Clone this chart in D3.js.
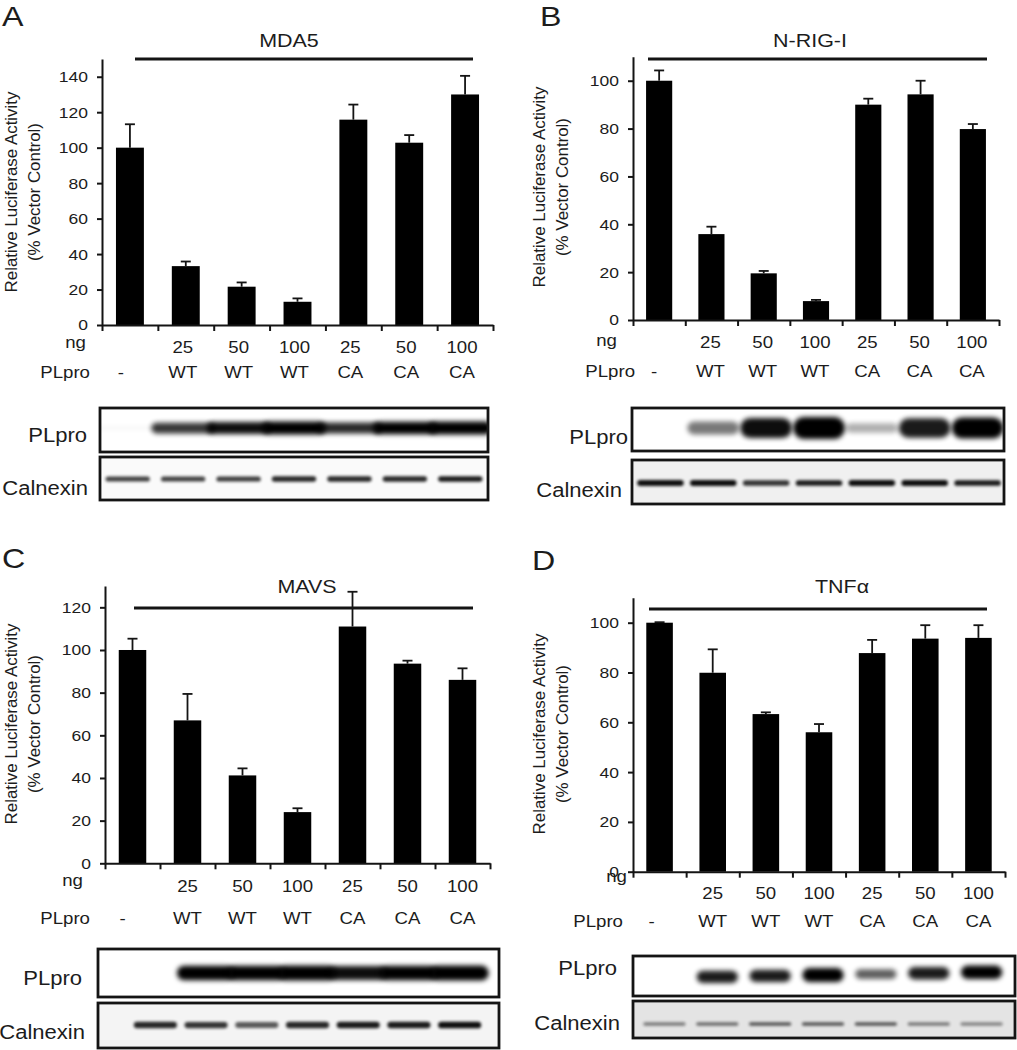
<!DOCTYPE html>
<html><head><meta charset="utf-8">
<script src="https://cdn.jsdelivr.net/npm/d3@7"></script>
<style>
body{margin:0;background:#fff}
svg{display:block}
text{font-family:"Liberation Sans",Arial,Helvetica,sans-serif;fill:#1c1c1c}
</style>
</head><body>
<svg id="fig" width="1017" height="1050"></svg>
<script>
// ---------- data ----------
const lanes = ["vector", "WT 25", "WT 50", "WT 100", "CA 25", "CA 50", "CA 100"];
const ngLabels = ["", "25", "50", "100", "25", "50", "100"];
const plproLabels = ["-", "WT", "WT", "WT", "CA", "CA", "CA"];

const mda5Values = [100, 33.2, 21.6, 13.1, 115.8, 102.8, 130];
const mda5Errors = [13.2, 2.6, 2.4, 1.9, 8.5, 4.3, 10.5];
const mda5Ticks = [0, 20, 40, 60, 80, 100, 120, 140];

const nrigValues = [100, 35.9, 19.5, 7.9, 90, 94.3, 79.8];
const nrigErrors = [4.3, 3.1, 1.0, 0.5, 2.5, 5.7, 2.1];
const nrigTicks = [0, 20, 40, 60, 80, 100];

const mavsValues = [100, 67, 41.2, 24, 111, 93.6, 86];
const mavsErrors = [5.3, 12.4, 3.3, 1.8, 16.3, 1.4, 5.4];
const mavsTicks = [0, 20, 40, 60, 80, 100, 120];

const tnfValues = [100, 79.9, 63.3, 56, 87.8, 93.6, 93.9];
const tnfErrors = [0.2, 9.4, 0.7, 3.3, 5.3, 5.4, 5.1];
const tnfTicks = [0, 20, 40, 60, 80, 100];

// western blot band intensities (0..1) per lane
const mda5PLpro    = [0.03, 0.75, 0.9, 1.0, 0.8, 0.95, 1.0];
const mda5Calnexin = [0.7, 0.7, 0.72, 0.8, 0.8, 0.8, 0.85];
const nrigPLpro    = [0.0, 0.5, 0.9, 1.0, 0.3, 0.85, 0.95];
const nrigCalnexin = [0.9, 0.9, 0.75, 0.85, 0.9, 0.9, 0.85];
const mavsPLpro    = [0.0, 0.95, 0.95, 1.0, 0.9, 0.95, 1.0];
const mavsCalnexin = [0.8, 0.75, 0.6, 0.8, 0.85, 0.85, 0.9];
const tnfPLpro     = [0.0, 0.85, 0.85, 1.0, 0.6, 0.85, 0.95];
const tnfCalnexin  = [0.45, 0.5, 0.6, 0.6, 0.6, 0.45, 0.4];

// ---------- drawing ----------
const svg = d3.select("#fig");
const defs = svg.append("defs");
function addBlur(id, sd) {
  defs.append("filter").attr("id", id)
    .attr("x", "-30%").attr("y", "-150%").attr("width", "160%").attr("height", "400%")
    .append("feGaussianBlur").attr("stdDeviation", sd);
}
addBlur("blurPL", 2.6);
addBlur("blurCal", 1.6);

const ink = "#141414";
const FS_TICK = 15.5;
const FS_ROW = 16.5;
const SX = 1.13; // horizontal text stretch seen in the reference

function drawChart(p) {
  const g = svg.append("g");
  const y = d3.scaleLinear().domain([0, p.yMax]).range([p.y0, p.yTop]);
  const x = d3.scaleBand().domain(lanes).range([p.x0, p.x1]).paddingInner(0.5).paddingOuter(0.25);
  const xb = d3.scaleLinear().domain([0, lanes.length]).range([p.x0, p.x1]);

  // bars
  g.append("g").selectAll("rect").data(p.values).join("rect")
    .attr("x", (d, i) => x(lanes[i]))
    .attr("y", d => y(d))
    .attr("width", x.bandwidth())
    .attr("height", d => y(0) - y(d))
    .attr("fill", "#000");

  // error bars (upper only)
  const eg = g.append("g").attr("stroke", ink).attr("stroke-width", 1.8);
  p.values.forEach((v, i) => {
    const cx = x(lanes[i]) + x.bandwidth() / 2;
    const top = y(v + p.errors[i]);
    eg.append("line").attr("x1", cx).attr("x2", cx).attr("y1", y(v)).attr("y2", top);
    eg.append("line").attr("x1", cx - 5).attr("x2", cx + 5).attr("y1", top).attr("y2", top);
  });

  // y axis
  const ya = g.append("g").attr("transform", `translate(${p.x0},0)`)
    .call(d3.axisLeft(y).tickValues(p.ticks).tickSize(5).tickSizeOuter(0).tickPadding(9));
  // x axis (ticks at lane boundaries)
  const xa = g.append("g").attr("transform", `translate(0,${p.y0})`)
    .call(d3.axisBottom(xb).tickValues(d3.range(0, lanes.length + 1)).tickSize(6).tickSizeOuter(0).tickFormat(""));
  [ya, xa].forEach(a => {
    a.select(".domain").attr("stroke", ink).attr("stroke-width", 2);
    a.selectAll(".tick line").attr("stroke", ink).attr("stroke-width", 2);
    a.selectAll(".tick text").attr("font-size", FS_TICK).attr("fill", "#1c1c1c")
      .style("font-family", '"Liberation Sans",Arial,sans-serif');
  });

  // ng row
  g.append("text").attr("x", p.ngLabelX).attr("y", p.ngLabelY).attr("text-anchor", "end")
    .attr("font-size", FS_ROW).text("ng");
  g.append("g").selectAll("text").data(ngLabels).join("text")
    .attr("x", (d, i) => x(lanes[i]) + x.bandwidth() / 2 + p.rowShift)
    .attr("y", p.ngY).attr("text-anchor", "middle").attr("font-size", FS_ROW).text(d => d);
  // PLpro row
  g.append("text").attr("x", p.plLabelX).attr("y", p.plY).attr("text-anchor", "end")
    .attr("font-size", FS_ROW).text("PLpro");
  g.append("g").selectAll("text").data(plproLabels).join("text")
    .attr("x", (d, i) => x(lanes[i]) + x.bandwidth() / 2 + p.rowShift + (i === 0 ? p.dashShift : 0))
    .attr("y", p.plY).attr("text-anchor", "middle").attr("font-size", FS_ROW).text(d => d);

  // title + bar line
  g.append("line").attr("x1", p.lineX0).attr("x2", p.lineX1).attr("y1", p.lineY).attr("y2", p.lineY)
    .attr("stroke", ink).attr("stroke-width", 2.8);
  g.append("text").attr("x", p.titleX).attr("y", p.titleY).attr("text-anchor", "middle")
    .attr("font-size", 19).text(p.title);

  // y title
  const yt = g.append("text").attr("transform", `translate(${p.ytX},${p.ytY}) rotate(-90)`)
    .attr("text-anchor", "middle").attr("font-size", 16.9);
  yt.append("tspan").attr("x", 0).attr("dy", 0).text("Relative Luciferase Activity");
  yt.append("tspan").attr("x", 0).attr("dy", 22.5).text("(% Vector Control)");

  // panel letter
  g.append("text").attr("x", p.letterX).attr("y", p.letterY).attr("font-size", 28.5).text(p.letter);
}

function drawBlot(b) {
  const g = svg.append("g");
  const lx = d3.scaleBand().domain(lanes).range(b.laneRange);
  const rows = [
    {name: "PLpro", data: b.pl, box: b.plBox, cy: b.plCy, h: b.plH, w: b.plW, bg: "#fff", f: "url(#blurPL)", lab: b.plLab, tilt: b.plTilt || 0},
    {name: "Calnexin", data: b.cal, box: b.calBox, cy: b.calCy, h: b.calH, w: b.calW, bg: b.calBg, f: "url(#blurCal)", lab: b.calLab, tilt: 0}
  ];
  rows.forEach((r, ri) => {
    const cp = "clip" + b.id + ri;
    defs.append("clipPath").attr("id", cp).append("rect")
      .attr("x", b.x0).attr("y", r.box[0]).attr("width", b.x1 - b.x0).attr("height", r.box[1] - r.box[0]);
    g.append("rect").attr("x", b.x0).attr("y", r.box[0]).attr("width", b.x1 - b.x0)
      .attr("height", r.box[1] - r.box[0]).attr("fill", r.bg);
    const hs = d3.scaleLinear().domain([0, 1]).range(r.h);
    const bg = g.append("g").attr("clip-path", `url(#${cp})`);
    bg.selectAll("rect").data(r.data).join("rect")
      .attr("x", (d, i) => lx(lanes[i]) + lx.bandwidth() * (1 - r.w) / 2)
      .attr("y", (d, i) => r.cy - hs(d) / 2 + r.tilt * (i - 3))
      .attr("width", lx.bandwidth() * r.w)
      .attr("height", d => hs(d))
      .attr("rx", d => hs(d) / 2)
      .attr("fill", "#000")
      .attr("opacity", d => Math.min(1, d * 1.05))
      .attr("filter", r.f);
    g.append("rect").attr("x", b.x0).attr("y", r.box[0]).attr("width", b.x1 - b.x0)
      .attr("height", r.box[1] - r.box[0]).attr("fill", "none").attr("stroke", ink).attr("stroke-width", 2.8);
    g.append("text").attr("x", r.lab[0]).attr("y", r.lab[1]).attr("text-anchor", "end")
      .attr("dominant-baseline", "central").attr("font-size", 19.5).text(r.name);
  });
}

// Panel A
drawChart({title: "MDA5", letter: "A", values: mda5Values, errors: mda5Errors, ticks: mda5Ticks,
  yMax: 150, x0: 102, x1: 493, y0: 325, yTop: 59,
  ngLabelX: 86, ngLabelY: 348, ngY: 353, plLabelX: 90, plY: 378, rowShift: -3, dashShift: -6,
  lineX0: 135, lineX1: 473, lineY: 59, titleX: 289, titleY: 47,
  ytX: 17, ytY: 192, letterX: 2, letterY: 26});
drawBlot({id: "a", x0: 100, x1: 488, laneRange: [100, 488],
  pl: mda5PLpro, plBox: [408, 452], plCy: 428, plH: [4, 13], plW: 1.15, plLab: [87, 435],
  cal: mda5Calnexin, calBox: [457, 500], calCy: 479, calH: [3, 6], calW: 0.8, calBg: "#fafafa", calLab: [88, 488]});

// Panel B
drawChart({title: "N-RIG-I", letter: "B", values: nrigValues, errors: nrigErrors, ticks: nrigTicks,
  yMax: 110, x0: 633, x1: 999, y0: 320, yTop: 56.8,
  ngLabelX: 617, ngLabelY: 346, ngY: 348, plLabelX: 635, plY: 377, rowShift: -1, dashShift: -4,
  lineX0: 648, lineX1: 987, lineY: 59, titleX: 810, titleY: 47,
  ytX: 545, ytY: 187, letterX: 540, letterY: 26});
drawBlot({id: "b", x0: 632, x1: 1004, laneRange: [634, 1004],
  pl: nrigPLpro, plBox: [408, 451], plCy: 428, plH: [4, 22], plW: 0.98, plLab: [628, 437],
  cal: nrigCalnexin, calBox: [460, 504], calCy: 483, calH: [4, 6], calW: 0.88, calBg: "#f0f0f0", calLab: [622, 490]});

// Panel C
drawChart({title: "MAVS", letter: "C", values: mavsValues, errors: mavsErrors, ticks: mavsTicks,
  yMax: 130, x0: 105, x1: 490, y0: 863.3, yTop: 586,
  ngLabelX: 83, ngLabelY: 886, ngY: 892, plLabelX: 90, plY: 924, rowShift: 0, dashShift: -10,
  lineX0: 134, lineX1: 473, lineY: 608, titleX: 307, titleY: 593,
  ytX: 17, ytY: 724, letterX: 2, letterY: 568});
drawBlot({id: "c", x0: 98, x1: 499, laneRange: [130, 485],
  pl: mavsPLpro, plBox: [949, 997], plCy: 973, plH: [6, 15], plW: 1.15, plLab: [82, 978],
  cal: mavsCalnexin, calBox: [1003, 1048], calCy: 1025, calH: [4, 7], calW: 0.85, calBg: "#f4f4f4", calLab: [85, 1032]});

// Panel D
drawChart({title: "TNFα", letter: "D", values: tnfValues, errors: tnfErrors, ticks: tnfTicks,
  yMax: 110, x0: 633, x1: 1005, y0: 871.7, yTop: 597.8,
  ngLabelX: 627, ngLabelY: 882, ngY: 899, plLabelX: 623, plY: 927, rowShift: 0, dashShift: -8,
  lineX0: 649, lineX1: 987, lineY: 609, titleX: 842, titleY: 593,
  ytX: 545, ytY: 734, letterX: 532, letterY: 570});
drawBlot({id: "d", x0: 633, x1: 1015, laneRange: [638, 1008],
  pl: tnfPLpro, plBox: [956, 996], plCy: 975, plH: [3, 14], plW: 0.78, plLab: [617, 968], plTilt: -0.9,
  cal: tnfCalnexin, calBox: [1001, 1038], calCy: 1024, calH: [3, 4], calW: 0.8, calBg: "#e4e4e4", calLab: [620, 1023]});

// horizontal stretch of all non-rotated texts around their anchor x
svg.selectAll("text").each(function () {
  const t = d3.select(this);
  if (t.attr("transform")) return;
  const x = +t.attr("x") || 0;
  t.attr("transform", `translate(${x * (1 - SX)},0) scale(${SX},1)`);
});
</script>
</body></html>
